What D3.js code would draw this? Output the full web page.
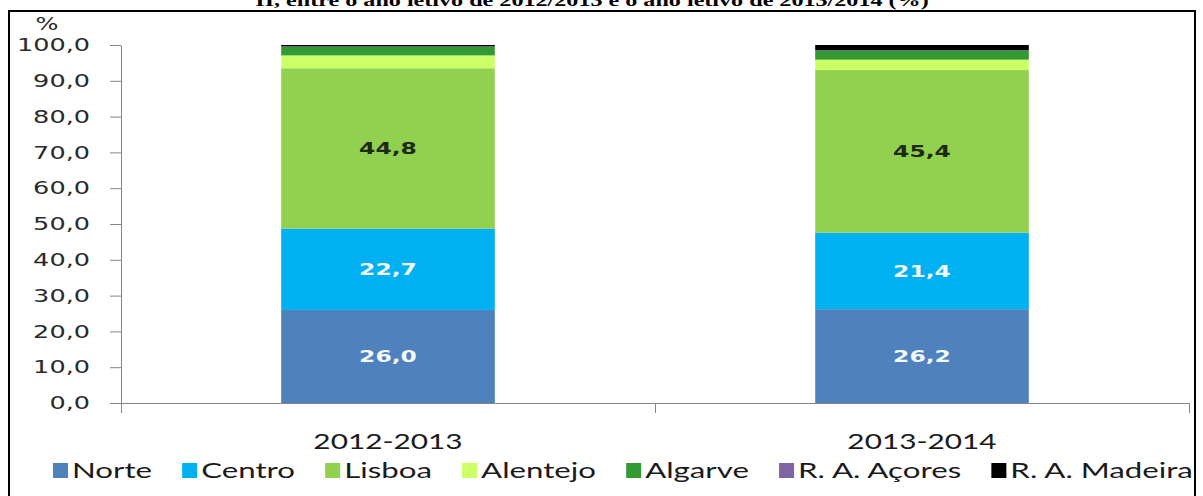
<!DOCTYPE html>
<html>
<head>
<meta charset="utf-8">
<script src="https://cdn.jsdelivr.net/npm/d3@7"></script>
<style>
  html, body { margin: 0; padding: 0; background: #fff; }
  svg { display: block; }
</style>
</head>
<body>
<svg id="chart" width="1203" height="496"></svg>
<script>
// Share of students by region (NUTS II), school years 2012/2013 and 2013/2014
const categories = ["2012-2013", "2013-2014"];
const regions = ["Norte", "Centro", "Lisboa", "Alentejo", "Algarve", "R. A. Açores", "R. A. Madeira"];
const norte    = [26.0, 26.2];
const centro   = [22.7, 21.4];
const lisboa   = [44.8, 45.4];
const alentejo = [3.6, 2.9];
const algarve  = [2.4, 2.5];
const acores   = [0.1, 0.1];
const madeira  = [0.4, 1.5];
const yTicks = [0, 10, 20, 30, 40, 50, 60, 70, 80, 90, 100];
const labelledRegions = ["Norte", "Centro", "Lisboa"];
const titleText = "II, entre o ano letivo de 2012/2013 e o ano letivo de 2013/2014 (%)";

const seriesValues = [norte, centro, lisboa, alentejo, algarve, acores, madeira];
const colors = ["#4f81bd", "#00b0f0", "#92d050", "#ccff66", "#339933", "#8064a2", "#000000"];
const labelColors = { "Norte": "#f4f8ff", "Centro": "#f4f8ff", "Lisboa": "#1e2a14" };

const rows = categories.map((c, i) => {
  const r = { category: c };
  regions.forEach((name, k) => { r[name] = seriesValues[k][i]; });
  return r;
});

const SX = 1.42; // horizontal stretch applied to every label
const fmt = v => v.toFixed(1).replace(".", ",");

const svg = d3.select("#chart");

const y = d3.scaleLinear().domain([0, 100]).range([403, 45]);
const x = d3.scaleBand().domain(categories).range([121, 1189])
  .paddingInner(0.6).paddingOuter(0.3);
const color = d3.scaleOrdinal().domain(regions).range(colors);

// title line (only its lower part sits inside the page)
svg.append("text")
  .attr("transform", `translate(592,6) scale(${SX},1)`)
  .attr("text-anchor", "middle")
  .style("font-family", "'Liberation Serif', serif")
  .style("font-weight", "bold")
  .style("font-size", "17px")
  .attr("fill", "#000")
  .text(titleText);

// outer frame
svg.append("rect")
  .attr("x", 9).attr("y", 11).attr("width", 1186).attr("height", 600)
  .attr("fill", "none").attr("stroke", "#000").attr("stroke-width", 2);

// stacked bars
const stacked = d3.stack().keys(regions)(rows);
const layers = svg.append("g").selectAll("g").data(stacked).join("g")
  .attr("fill", d => color(d.key));
layers.selectAll("rect").data(d => d).join("rect")
  .attr("x", d => x(d.data.category))
  .attr("width", x.bandwidth())
  .attr("y", d => y(d[1]))
  .attr("height", d => y(d[0]) - y(d[1]));

// value labels on the three largest segments
const labelGroup = svg.append("g");
stacked.filter(s => labelledRegions.includes(s.key)).forEach(s => {
  s.forEach(d => {
    labelGroup.append("text")
      .attr("transform", `translate(${x(d.data.category) + x.bandwidth() / 2},${(y(d[0]) + y(d[1])) / 2}) scale(${SX},1)`)
      .attr("text-anchor", "middle")
      .attr("dominant-baseline", "central")
      .style("font-family", "'DejaVu Sans', sans-serif")
      .style("font-weight", "bold")
      .style("font-size", "16.5px")
      .attr("fill", labelColors[s.key])
      .text(fmt(d[1] - d[0]));
  });
});

// y axis
const yAxis = svg.append("g").attr("transform", "translate(121,0)")
  .call(d3.axisLeft(y).tickValues(yTicks).tickSize(11).tickSizeOuter(0).tickPadding(31).tickFormat(fmt));
yAxis.select(".domain").attr("stroke", "#868686");
yAxis.selectAll(".tick line").attr("stroke", "#868686");
yAxis.selectAll(".tick text")
  .attr("x", -31 / SX)
  .attr("transform", `scale(${SX},1)`)
  .style("font-family", "'DejaVu Sans', sans-serif")
  .style("font-size", "18px")
  .attr("fill", "#2a2a2a");

// unit label above the axis
svg.append("text")
  .attr("transform", `translate(47,30) scale(${SX},1)`)
  .attr("text-anchor", "middle")
  .style("font-family", "'DejaVu Sans', sans-serif")
  .style("font-size", "17px")
  .attr("fill", "#2a2a2a")
  .text("%");

// x axis line with category divider ticks
const xEdges = d3.scaleLinear().domain([0, categories.length]).range(x.range());
const xLine = svg.append("g").attr("transform", `translate(0,${y(0)})`)
  .call(d3.axisBottom(xEdges).tickValues(d3.range(categories.length + 1)).tickSize(10).tickSizeOuter(0).tickFormat(""));
xLine.select(".domain").attr("stroke", "#868686");
xLine.selectAll(".tick line").attr("stroke", "#868686");

// category labels
const xAxis = svg.append("g").attr("transform", `translate(0,${y(0)})`)
  .call(d3.axisBottom(x).tickSize(0).tickPadding(31));
xAxis.select(".domain").remove();
xAxis.selectAll(".tick text")
  .attr("transform", `scale(${SX},1)`)
  .style("font-family", "Lato, sans-serif")
  .style("font-size", "21px")
  .attr("fill", "#1a1a1a");

// legend
const swatch = 15, swatchGap = 4;
const legend = svg.append("g");
const items = legend.selectAll("g").data(regions).join("g");
items.append("rect")
  .attr("y", 463).attr("width", swatch).attr("height", swatch)
  .attr("fill", d => color(d));
items.append("text")
  .attr("y", 478)
  .style("font-family", "Lato, sans-serif")
  .style("font-size", "22px")
  .attr("fill", "#1a1a1a")
  .text(d => d);

// lay legend entries out left to right across the frame
const legendStart = 53, legendEnd = 1193;
const textWidths = [];
items.select("text").each(function () { textWidths.push(this.getComputedTextLength() * SX); });
const used = d3.sum(textWidths) + regions.length * (swatch + swatchGap);
const gap = (legendEnd - legendStart - used) / (regions.length - 1);
let cursor = legendStart;
items.each(function (d, i) {
  const g = d3.select(this);
  g.select("rect").attr("x", cursor);
  g.select("text").attr("transform", `translate(${cursor + swatch + swatchGap},0) scale(${SX},1)`);
  cursor += swatch + swatchGap + textWidths[i] + gap;
});
</script>
</body>
</html>
